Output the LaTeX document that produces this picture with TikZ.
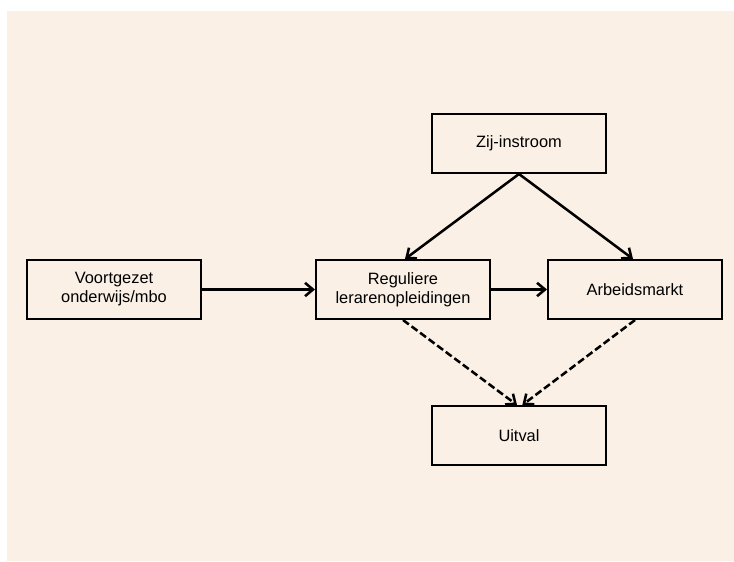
\documentclass[tikz,border=0pt]{standalone}
\usepackage{fontspec}
\setmainfont{Liberation Sans}
\usetikzlibrary{arrows.meta}
\definecolor{achtergrond}{RGB}{250,240,230}
\tikzset{
  blok/.style={draw, line width=1.5pt, fill=achtergrond, minimum width=130.5pt,
    minimum height=44.25pt, align=center, inner sep=0pt,
    font=\fontsize{12.3}{14.3}\selectfont},
  pijl/.style={line width=1.9pt, -{Straight Barb[length=6pt,width=10pt]}},
  uitpijl/.style={pijl, dash pattern=on 5.5pt off 2.5pt}
}
\begin{document}
\begin{tikzpicture}[x=0.75pt,y=-0.75pt]
                \useasboundingbox (0,0) rectangle (734,561);
                \fill[achtergrond] (7,11) rectangle (734,561);

                \node[blok] (VO) at (114,289.5) {Voortgezet\\onderwijs/mbo};
                \node[blok] (RL) at (403,289.5) {Reguliere\\lerarenopleidingen};
                \node[blok] (AM) at (635,289.5) {Arbeidsmarkt};
                \node[blok] (ZI) at (519,143.5) {Zij-instroom};
                \node[blok] (UV) at (519,435.5) {Uitval};

                \draw[pijl] (VO) -- (RL);
                \draw[pijl] (RL) -- (AM);
                \draw[pijl] (ZI.south) -- ([xshift=1.5pt]RL.north);
                \draw[pijl] (ZI.south) -- ([xshift=-1.5pt]AM.north);

                \draw[uitpijl] (RL.south) -- ([xshift=-1.5pt]UV.north);
                \draw[uitpijl] (AM.south) -- ([xshift=2.5pt]UV.north);
            \end{tikzpicture}
\end{document}
